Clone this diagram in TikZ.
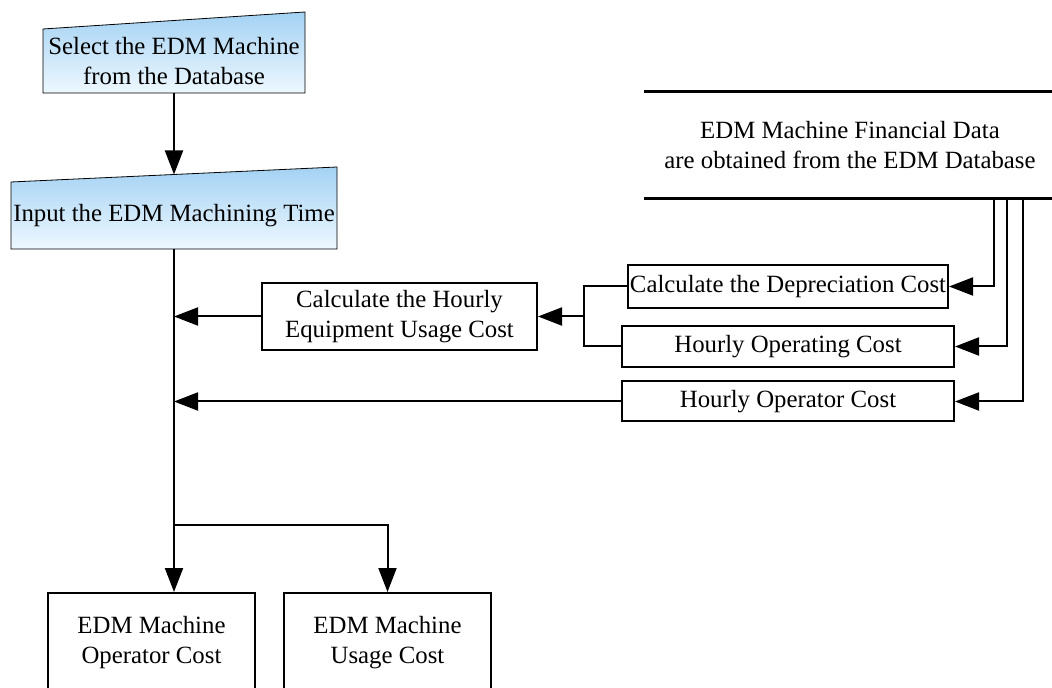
\documentclass[tikz,border=0pt]{standalone}
\usepackage{fontspec}
\setmainfont{Liberation Serif}
\usetikzlibrary{arrows.meta,calc,backgrounds}
\definecolor{skytop}{HTML}{A4D2F3}
\definecolor{skybot}{HTML}{EEF8FF}
\begin{document}
\begin{tikzpicture}[x=0.5pt,y=-0.5pt,
  every node/.style={font=\fontsize{12.4}{15}\selectfont, align=center, inner sep=0pt},
  box/.style={draw, line width=1pt, rectangle},
  plain/.style={rectangle},
  arr/.style={-{Triangle[length=12pt,width=9pt]}},
  line width=1pt]
\useasboundingbox (0,0) rectangle (1052,688);
\clip (0,0) rectangle (1052,688);

% manual-input steps (slanted top edge)
\node[plain, minimum width=130pt, minimum height=31pt] (sel) at (174,61)
  {Select the EDM Machine\\from the Database};
\node[plain, minimum width=162pt, minimum height=32.5pt] (inp) at (174,215.5)
  {Input the EDM Machining Time};
\begin{scope}[on background layer]
  \path[draw, top color=skytop, bottom color=skybot]
    (sel.south west) -- (sel.north west) -- ([yshift=8.5pt]sel.north east)
    -- (sel.south east) -- cycle;
  \path[draw, top color=skytop, bottom color=skybot]
    (inp.south west) -- (inp.north west) -- ([yshift=7.5pt]inp.north east)
    -- (inp.south east) -- cycle;
\end{scope}
\coordinate (inptop) at ($(inp.north west)!0.5!([yshift=7.5pt]inp.north east)$);

% data store
\node[plain, minimum width=205pt, minimum height=52.5pt] (fin) at (850,145.5)
  {EDM Machine Financial Data\\are obtained from the EDM Database};
\draw[line width=1.5pt] (fin.north west) -- (fin.north east);
\draw[line width=1.5pt] (fin.south west) -- (fin.south east);

% processing boxes
\node[box, minimum width=160pt, minimum height=21.5pt] (dep) at (788,286.5)
  {Calculate the Depreciation Cost};
\node[box, minimum width=166pt, minimum height=20.5pt] (opg) at (788,346.5)
  {Hourly Operating Cost};
\node[box, minimum width=166pt, minimum height=20pt] (opr) at (788,401.5)
  {Hourly Operator Cost};
\node[box, minimum width=137.5pt, minimum height=33.5pt] (calc) at (399.5,316.5)
  {Calculate the Hourly\\Equipment Usage Cost};

% results
\node[box, minimum width=103.5pt, minimum height=49.5pt] (opc) at (151.5,642.5)
  {EDM Machine\\Operator Cost};
\node[box, minimum width=103.5pt, minimum height=49.5pt] (usc) at (387.5,642.5)
  {EDM Machine\\Usage Cost};

\coordinate (jn) at (584,316.5);
\coordinate (br) at (174,525);

% connectors
\draw[arr] (sel.south) -- (inptop);
\draw[arr] ([xshift=72pt]fin.south) |- (dep.east);
\draw[arr] ([xshift=78.5pt]fin.south) |- (opg.east);
\draw[arr] ([xshift=86.5pt]fin.south) |- (opr.east);
\draw (dep.west) -| (jn) |- (opg.west);
\draw[arr] (jn) -- (calc.east);
\draw[arr] (calc.west) -- (calc.west -| inp.south);
\draw[arr] (opr.west) -- (opr.west -| inp.south);
\draw[arr] (inp.south) -- (inp.south |- opc.north);
\draw[arr] (br) -| (usc.north);
\end{tikzpicture}
\end{document}
